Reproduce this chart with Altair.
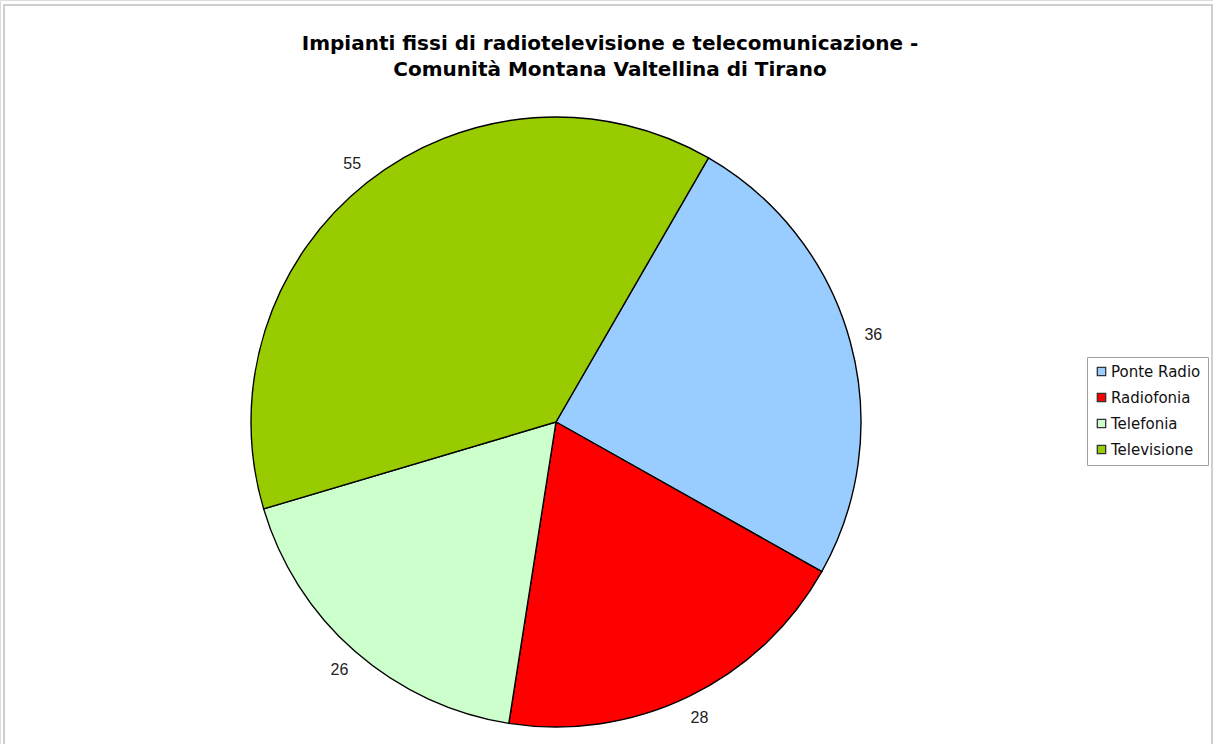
import altair as alt
import pandas as pd

# Impianti per tipologia
categorie = ["Ponte Radio", "Radiofonia", "Telefonia", "Televisione"]
valori = [36, 28, 26, 55]
colori = ["#99CCFF", "#FF0000", "#CCFFCC", "#99CC00"]

titolo = [
    "Impianti fissi di radiotelevisione e telecomunicazione -",
    "Comunità Montana Valtellina di Tirano",
]

df = pd.DataFrame({"tipo": categorie, "n": valori, "ordine": list(range(len(categorie)))})

W, H = 1213, 744
CX, CY = 556, 422
R = 305

# slices start at 30 degrees clockwise from 12 o'clock
start = 3.14159265 / 6
theta_scale = alt.Scale(range=[start, start + 2 * 3.14159265])

base = alt.Chart(df).encode(
    theta=alt.Theta("n:Q", stack=True, scale=theta_scale),
    order=alt.Order("ordine:Q"),
)

torta = base.mark_arc(outerRadius=R, stroke="black", strokeWidth=1.4).encode(
    x=alt.value(CX),
    y=alt.value(CY),
    color=alt.Color(
        "tipo:N",
        scale=alt.Scale(domain=categorie, range=colori),
        legend=alt.Legend(
            title=None,
            orient="none",
            legendX=1087,
            legendY=357,
            symbolType="square",
            symbolSize=70,
            symbolStrokeColor="#333333",
            symbolStrokeWidth=1.3,
            symbolOpacity=1,
            labelFont="DejaVu Sans",
            labelFontSize=15,
            labelColor="#111111",
            labelOffset=2,
            rowPadding=10,
            padding=7,
            strokeColor="#a0a0a0",
            fillColor="white",
            cornerRadius=0,
        ),
    ),
)

etichette = base.mark_text(
    radius=329, font="Liberation Sans", fontSize=16, color="#222222"
).encode(
    x=alt.value(CX),
    y=alt.value(CY),
    text=alt.Text("n:Q"),
)

cornice = alt.Chart(df).mark_rect(
    fill=None, stroke="#cfcfcf", strokeWidth=2
).encode(
    x=alt.value(4), x2=alt.value(1212), y=alt.value(5), y2=alt.value(H + 20)
)

chart = (
    alt.layer(cornice, torta, etichette)
    .properties(
        width=W,
        height=H,
        autosize=alt.AutoSizeParams(type="none"),
        padding=0,
        title=alt.TitleParams(
            text=titolo,
            font="DejaVu Sans",
            fontSize=20,
            fontWeight="bold",
            color="black",
            anchor="start",
            align="center",
            dx=610,
            dy=80,
            lineHeight=26,
            offset=0,
        ),
    )
    .configure_view(stroke=None)
    .configure(background="white")
)

chart.save("out.html", embed_options={"renderer": "svg", "actions": False})
